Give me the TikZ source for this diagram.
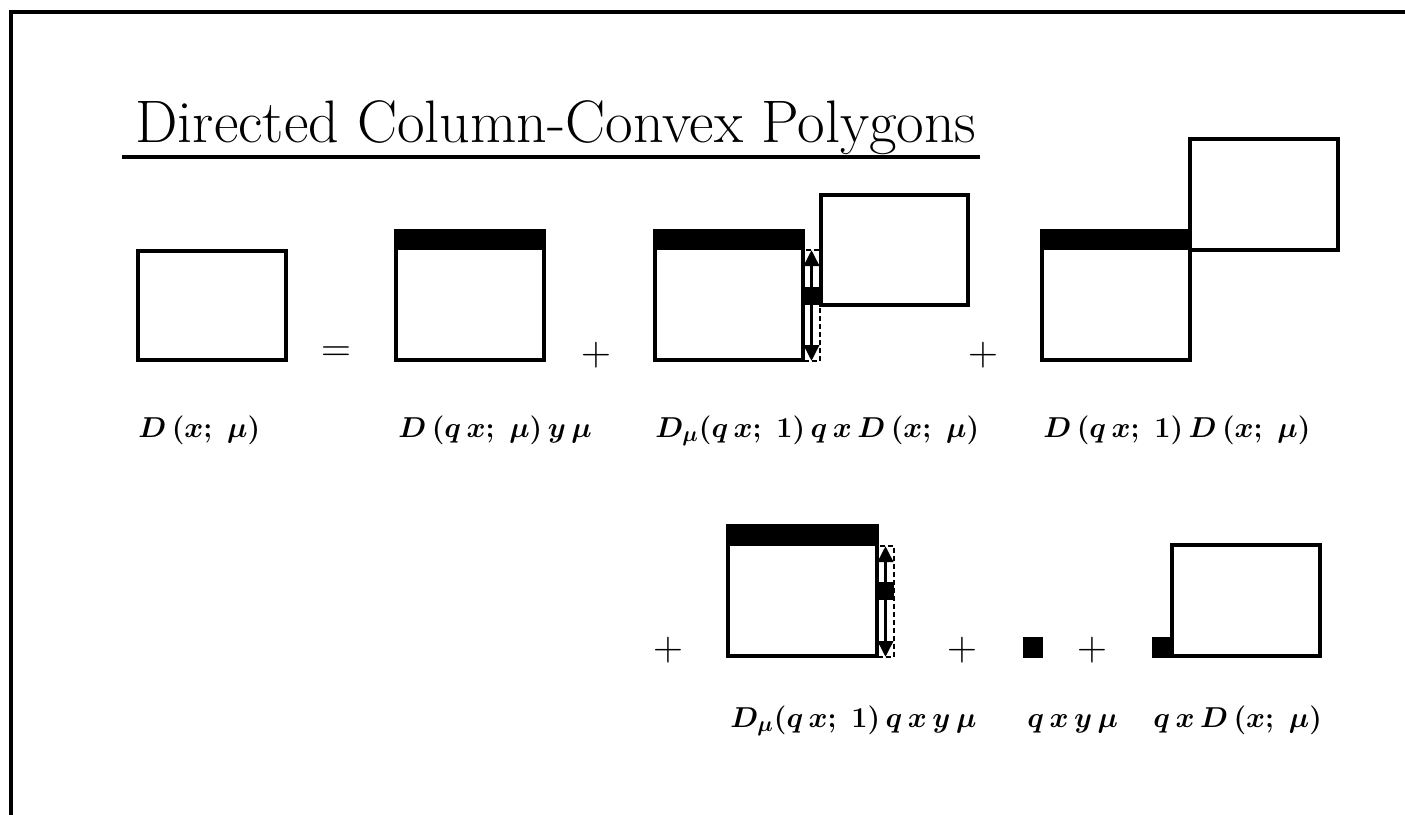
\documentclass[tikz,border=0pt]{standalone}
\usepackage{amsmath}
\usepackage{amsfonts}
\usetikzlibrary{arrows.meta}

\tikzset{
	poly/.style={draw, line width=2pt},
	cell/.style={draw, line width=1.3pt, dash pattern=on 2.5pt off 1.5pt},
	blk/.style={fill=black, inner sep=0pt, minimum width=8.5pt, minimum height=9pt},
	arr/.style={line width=1.8pt, -{Triangle[length=8pt, width=7.5pt]}},
	lab/.style={anchor=base west, inner sep=0pt, font=\fontsize{15}{18}\selectfont\boldmath},
	op/.style={inner sep=0pt, font=\fontsize{20}{24}\selectfont}
}

\begin{document}
\begin{tikzpicture}[x=0.5pt, y=-0.5pt]
	\useasboundingbox (0,0) rectangle (1405,815);

	%frame of the slide
	\draw[line width=2pt] (1405,12) -- (11,12) -- (11,815);

	%title and underline
	\node[anchor=base west, inner sep=0pt, font=\fontsize{30}{36}\selectfont] (title) at (135,142) {Directed Column-Convex Polygons};
	\draw[line width=2pt] (122,157) -- (980,157);

	%first row: D = ...
	\draw[poly] (138,251) rectangle (286,360);
	\node[op] (eq) at (336,354) {$=$};

	\fill (396,231) rectangle (544,250);
	\draw[poly] (396,231) rectangle (544,360);
	\node[op] (p1) at (596,355) {$+$};

	\fill (655,231) rectangle (803,250);
	\draw[cell] (803,250) rectangle (820,361);
	\draw[poly] (655,231) rectangle (803,360);
	\node[blk] (m1) at (811.5,296) {};
	\draw[arr] (m1.north) -- (811.5,250);
	\draw[arr] (m1.south) -- (811.5,361);
	\draw[poly] (821,195) rectangle (968,305);
	\node[op] (p2) at (983,355) {$+$};

	\fill (1042,231) rectangle (1190,250);
	\draw[poly] (1042,231) rectangle (1190,360);
	\draw[poly] (1190,139) rectangle (1338,250);

	%labels of first row
	\node[lab] (l1) at (138,437) {$D\,(x;\;\mu)$};
	\node[lab] (l2) at (398,437) {$D\,(q\,x;\;\mu)\,y\,\mu$};
	\node[lab] (l3) at (655,437) {$D_{\mu}(q\,x;\;1)\,q\,x\,D\,(x;\;\mu)$};
	\node[lab] (l4) at (1043,437) {$D\,(q\,x;\;1)\,D\,(x;\;\mu)$};

	%second row
	\node[op] (p3) at (668,650) {$+$};
	\fill (728,526) rectangle (877,546);
	\draw[cell] (877,546) rectangle (894,657);
	\draw[poly] (728,526) rectangle (877,656);
	\node[blk] (m2) at (885.5,591) {};
	\draw[arr] (m2.north) -- (885.5,546);
	\draw[arr] (m2.south) -- (885.5,657);
	\node[op] (p4) at (962,650) {$+$};

	\node[blk, minimum width=10pt, minimum height=10.5pt] (s1) at (1033,647) {};
	\node[op] (p5) at (1092,650) {$+$};

	\node[blk, minimum width=10pt, minimum height=10.5pt] (s2) at (1162,647) {};
	\draw[poly] (1172,545) rectangle (1320,656);

	%labels of second row
	\node[lab] (l5) at (730,727) {$D_{\mu}(q\,x;\;1)\,q\,x\,y\,\mu$};
	\node[lab] (l6) at (1027,727) {$q\,x\,y\,\mu$};
	\node[lab] (l7) at (1153,727) {$q\,x\,D\,(x;\;\mu)$};
\end{tikzpicture}
\end{document}
